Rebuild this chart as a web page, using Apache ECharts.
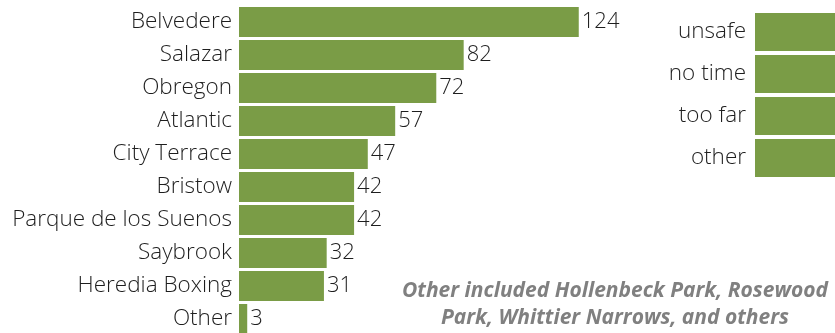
<!DOCTYPE html>
<html>
<head>
<meta charset="utf-8">
<script src="https://cdn.jsdelivr.net/npm/echarts@6/dist/echarts.min.js"></script>
<style>html,body{margin:0;padding:0;background:#fff}#c{width:835px;height:333px}</style>
</head>
<body>
<div id="c"></div>
<script>
const parkNames = ["Belvedere","Salazar","Obregon","Atlantic","City Terrace","Bristow","Parque de los Suenos","Saybrook","Heredia Boxing","Other"];
const parkValues = [124,82,72,57,47,42,42,32,31,3];
const reasonNames = ["unsafe","no time","too far","other"];
const reasonValues = [40,38,36,34];
const noteLines = ["Other included Hollenbeck Park, Rosewood","Park, Whittier Narrows, and others"];

const green = "#7A9C46";
const font = "Open Sans";
const chart = echarts.init(document.getElementById('c'), null, {renderer:'canvas'});
chart.setOption({
  animation:false,
  textStyle:{fontFamily:font},
  grid:[
    {left:239, top:5.5, width:411, height:330, outerBoundsMode:'none', containLabel:false},
    {left:755, top:11, width:400, height:168, outerBoundsMode:'none', containLabel:false}
  ],
  xAxis:[
    {gridIndex:0, type:'value', min:0, max:150, show:false},
    {gridIndex:1, type:'value', min:0, max:50, show:false}
  ],
  yAxis:[
    {gridIndex:0, type:'category', data:parkNames, inverse:true,
     axisLine:{show:false}, axisTick:{show:false},
     axisLabel:{fontFamily:font, fontSize:22.5, fontWeight:300, color:'#1e1e1e', margin:7}},
    {gridIndex:1, type:'category', data:reasonNames, inverse:true,
     axisLine:{show:false}, axisTick:{show:false},
     axisLabel:{fontFamily:font, fontSize:22.5, fontWeight:300, color:'#1e1e1e', margin:9}}
  ],
  series:[
    {type:'bar', xAxisIndex:0, yAxisIndex:0, data:parkValues, barCategoryGap:'9%',
     itemStyle:{color:green},
     label:{show:true, position:'right', distance:3, fontFamily:font, fontSize:22, fontWeight:300, color:'#1e1e1e'}},
    {type:'bar', xAxisIndex:1, yAxisIndex:1, data:reasonValues, barCategoryGap:'9.5%',
     itemStyle:{color:green}}
  ],
  graphic:[
    {type:'text', x:615, y:291, style:{text:noteLines[0], textAlign:'center', textVerticalAlign:'middle', fontFamily:font, fontStyle:'italic', fontWeight:'bold', fontSize:21, fill:'#808080'}},
    {type:'text', x:615, y:318, style:{text:noteLines[1], textAlign:'center', textVerticalAlign:'middle', fontFamily:font, fontStyle:'italic', fontWeight:'bold', fontSize:21, fill:'#808080'}}
  ]
});
</script>
</body>
</html>
